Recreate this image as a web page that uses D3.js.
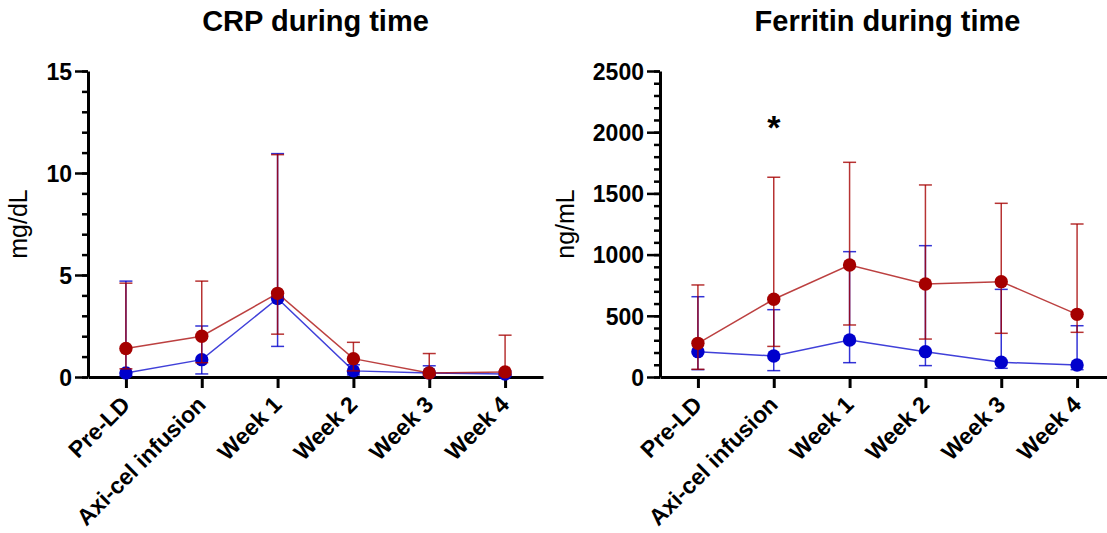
<!DOCTYPE html>
<html>
<head>
<meta charset="utf-8">
<script src="https://cdn.jsdelivr.net/npm/d3@7"></script>
<style>
  body { margin: 0; background: #fff; }
  svg { display: block; font-family: "Liberation Sans", Arial, sans-serif; }
  .axis path, .axis line { stroke: #000; }
  .axis text { fill: #000; font-weight: bold; }
</style>
</head>
<body>
<svg id="chart" width="1107" height="533"></svg>
<script>
// time points
var categories = ["Pre-LD", "Axi-cel infusion", "Week 1", "Week 2", "Week 3", "Week 4"];

// CRP (mg/dL): point, lower and upper error values
var crpRed     = [1.4, 2.0, 4.1, 0.9, 0.2, 0.25];
var crpRedLo   = [0.4, 0.7, 2.1, 0.3, 0.1, 0.1];
var crpRedHi   = [4.6, 4.7, 10.9, 1.7, 1.15, 2.05];
var crpBlue    = [0.2, 0.85, 3.85, 0.3, 0.2, 0.15];
var crpBlueLo  = [0.05, 0.15, 1.5, 0.1, 0.05, 0.05];
var crpBlueHi  = [4.7, 2.5, 10.95, 0.6, 0.55, 0.3];

// Ferritin (ng/mL)
var ferRed     = [275, 635, 915, 760, 779, 512];
var ferRedLo   = [63, 250, 425, 310, 357, 365];
var ferRedHi   = [752, 1632, 1754, 1569, 1419, 1250];
var ferBlue    = [207, 172, 302, 207, 120, 98];
var ferBlueLo  = [60, 52, 117, 93, 71, 60];
var ferBlueHi  = [656, 550, 1024, 1073, 716, 419];

var crpMajor = [0, 5, 10, 15];
var ferMajor = [0, 500, 1000, 1500, 2000, 2500];

var red = "#a50000", blue = "#0000cc";

var svg = d3.select("#chart");
var plotTop = 71, plotBottom = 377;

function makeSeries(mid, lo, hi) {
  return mid.map(function(v, i) { return {cat: categories[i], v: v, lo: lo[i], hi: hi[i]}; });
}

function drawPanel(opt) {
  var g = svg.append("g");

  var x = d3.scalePoint().domain(categories).range([opt.x0, opt.x1]).padding(0.5);
  var y = d3.scaleLinear().domain([0, opt.max]).range([plotBottom, plotTop]);

  // minor ticks on y
  g.append("g")
    .attr("class", "axis")
    .attr("transform", "translate(" + opt.x0 + ",0)")
    .call(d3.axisLeft(y).tickValues(d3.range(0, opt.max + 1e-9, opt.minorStep)).tickSize(6).tickFormat(""))
    .call(function(a) { a.select(".domain").remove(); a.selectAll("line").attr("stroke-width", 2.5); });

  // major ticks + labels
  g.append("g")
    .attr("class", "axis")
    .attr("transform", "translate(" + opt.x0 + ",0)")
    .call(d3.axisLeft(y).tickValues(opt.major).tickSize(13).tickSizeOuter(0).tickPadding(3).tickFormat(d3.format("d")))
    .call(function(a) {
      a.select(".domain").attr("stroke-width", 3);
      a.selectAll("line").attr("stroke-width", 2.5);
      a.selectAll("text").attr("font-size", 23).attr("dy", "0.36em");
    });

  // x axis
  g.append("g")
    .attr("class", "axis")
    .attr("transform", "translate(0," + plotBottom + ")")
    .call(d3.axisBottom(x).tickSize(11).tickSizeOuter(0))
    .call(function(a) {
      a.select(".domain").attr("stroke-width", 3);
      a.selectAll("line").attr("stroke-width", 3);
      a.selectAll("text")
        .attr("font-size", 23)
        .attr("text-anchor", "end")
        .attr("x", 0).attr("y", 0).attr("dy", 0)
        .attr("transform", "translate(5,29) rotate(-45)");
    });

  // title
  svg.append("text")
    .attr("x", (opt.x0 + opt.x1) / 2)
    .attr("y", 31)
    .attr("text-anchor", "middle")
    .attr("font-size", 29)
    .attr("font-weight", "bold")
    .text(opt.title);

  // y label
  svg.append("text")
    .attr("transform", "translate(" + opt.labelX + "," + ((plotTop + plotBottom) / 2) + ") rotate(-90)")
    .attr("text-anchor", "middle")
    .attr("font-size", 25)
    .text(opt.unit);

  var line = d3.line().x(function(d) { return x(d.cat); }).y(function(d) { return y(d.v); });

  opt.series.forEach(function(s) {
    var sg = g.append("g");
    var data = makeSeries(s.mid, s.lo, s.hi);

    sg.append("path")
      .datum(data)
      .attr("d", line)
      .attr("fill", "none")
      .attr("stroke", s.color)
      .attr("stroke-opacity", 0.75)
      .attr("stroke-width", 1.5);

    var bars = sg.selectAll(".err").data(data).enter().append("g")
      .attr("class", "err")
      .attr("stroke", s.color)
      .attr("stroke-opacity", 0.8)
      .attr("stroke-width", 1.5);

    bars.append("line")
      .attr("x1", function(d) { return x(d.cat); })
      .attr("x2", function(d) { return x(d.cat); })
      .attr("y1", function(d) { return y(d.lo); })
      .attr("y2", function(d) { return y(d.hi); });
    bars.append("line")
      .attr("x1", function(d) { return x(d.cat) - 6.5; })
      .attr("x2", function(d) { return x(d.cat) + 6.5; })
      .attr("y1", function(d) { return y(d.hi); })
      .attr("y2", function(d) { return y(d.hi); });
    bars.append("line")
      .attr("x1", function(d) { return x(d.cat) - 6.5; })
      .attr("x2", function(d) { return x(d.cat) + 6.5; })
      .attr("y1", function(d) { return y(d.lo); })
      .attr("y2", function(d) { return y(d.lo); });

    sg.selectAll("circle").data(data).enter().append("circle")
      .attr("cx", function(d) { return x(d.cat); })
      .attr("cy", function(d) { return y(d.v); })
      .attr("r", 6.7)
      .attr("fill", s.color);
  });

  return {x: x, y: y};
}

drawPanel({
  x0: 88, x1: 543, max: 15, minorStep: 1, major: crpMajor,
  title: "CRP during time", unit: "mg/dL", labelX: 27,
  series: [
    {mid: crpBlue, lo: crpBlueLo, hi: crpBlueHi, color: blue},
    {mid: crpRed, lo: crpRedLo, hi: crpRedHi, color: red}
  ]
});

var fer = drawPanel({
  x0: 660, x1: 1115, max: 2500, minorStep: 100, major: ferMajor,
  title: "Ferritin during time", unit: "ng/mL", labelX: 574,
  series: [
    {mid: ferBlue, lo: ferBlueLo, hi: ferBlueHi, color: blue},
    {mid: ferRed, lo: ferRedLo, hi: ferRedHi, color: red}
  ]
});

// significance mark at Axi-cel infusion
svg.append("text")
  .attr("x", fer.x("Axi-cel infusion"))
  .attr("y", 139)
  .attr("text-anchor", "middle")
  .attr("font-size", 34)
  .attr("font-weight", "bold")
  .text("*");
</script>
</body>
</html>
